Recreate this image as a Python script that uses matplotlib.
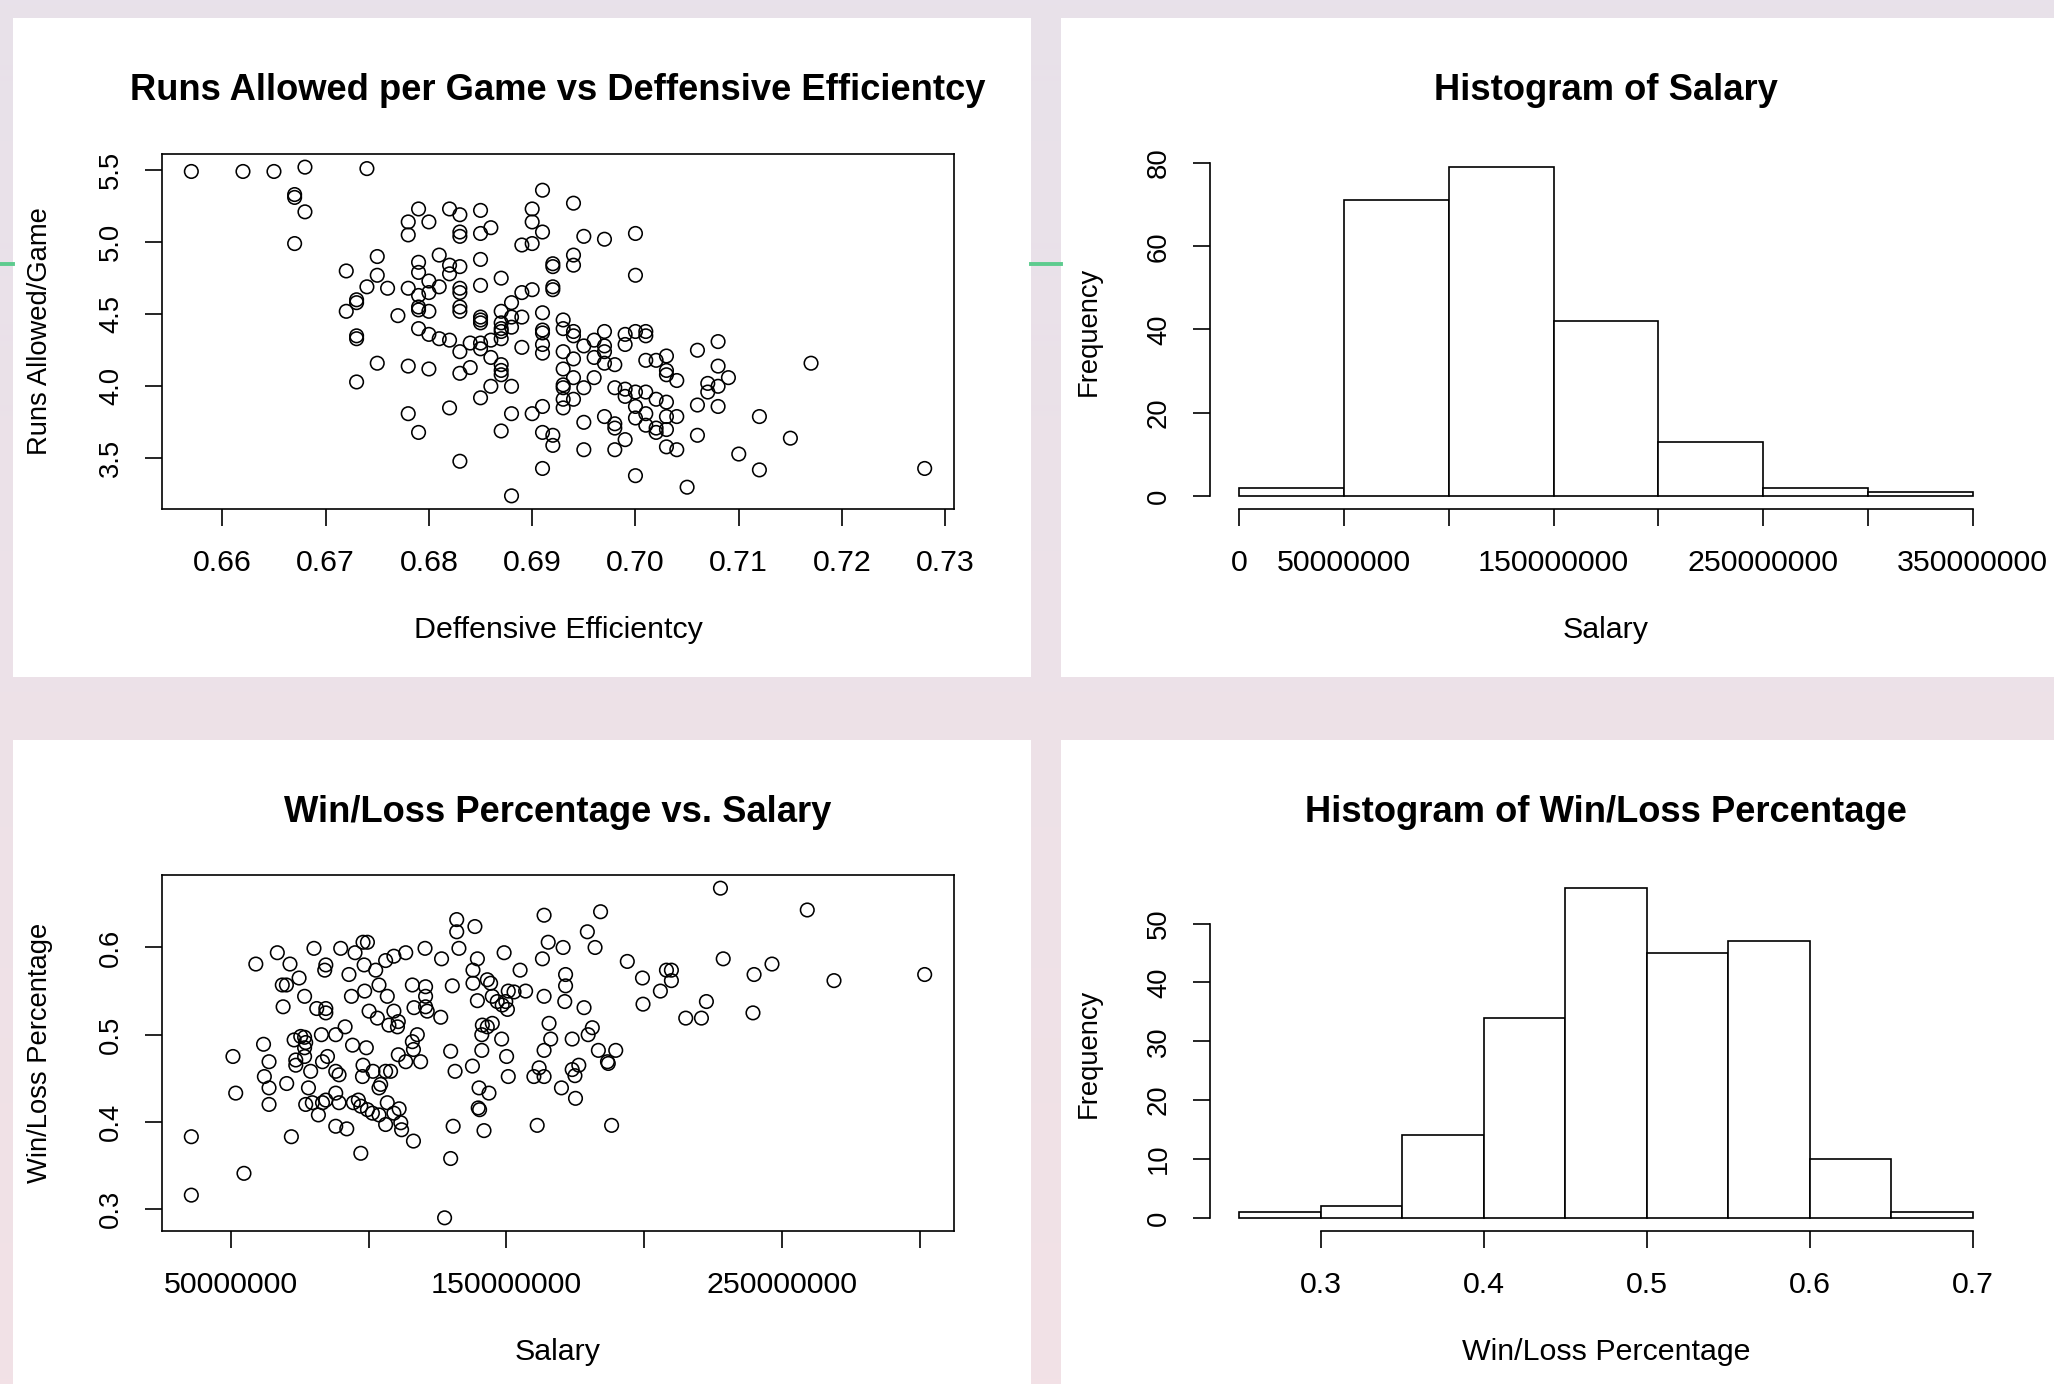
import numpy as np
import matplotlib
matplotlib.use("Agg")
import matplotlib.pyplot as plt
from matplotlib.patches import Rectangle
from matplotlib.lines import Line2D

plt.rcParams['font.family'] = ['Liberation Sans', 'DejaVu Sans']

# ---------------- data ----------------
def_eff = [
    0.657, 0.662, 0.665, 0.668, 0.674, 0.667, 0.667, 0.668, 0.667,
    0.672, 0.675, 0.675, 0.674, 0.676, 0.673, 0.673, 0.672, 0.673, 0.673,
    0.675, 0.673, 0.678, 0.678, 0.679, 0.680, 0.682, 0.683, 0.683, 0.683,
    0.685, 0.685, 0.686, 0.691, 0.690, 0.690, 0.691, 0.689, 0.690, 0.681,
    0.682, 0.682, 0.683, 0.685, 0.679, 0.679, 0.680, 0.681, 0.678,
    0.679, 0.679, 0.679, 0.680, 0.680, 0.677, 0.683, 0.683, 0.683, 0.683,
    0.685, 0.687, 0.679, 0.680, 0.681, 0.682, 0.683, 0.684,
    0.685, 0.685, 0.685, 0.685, 0.685, 0.686, 0.686,
    0.687, 0.687, 0.687, 0.687, 0.687, 0.688, 0.688, 0.688, 0.689, 0.689, 0.690, 0.691,
    0.691, 0.691, 0.691, 0.691, 0.689, 0.687, 0.687, 0.687,
    0.686, 0.688, 0.683, 0.684, 0.685, 0.682, 0.678, 0.680, 0.678, 0.679, 0.683,
    0.687, 0.688, 0.690, 0.691, 0.691, 0.692, 0.692, 0.691, 0.688,
    0.692, 0.692, 0.692, 0.692, 0.694, 0.694, 0.694, 0.695, 0.697, 0.700, 0.700,
    0.693, 0.693, 0.694, 0.694, 0.695, 0.696, 0.697, 0.697, 0.697, 0.696, 0.697,
    0.698, 0.699, 0.699, 0.700, 0.701,
    0.693, 0.694, 0.693, 0.694, 0.693, 0.693, 0.695, 0.696, 0.693, 0.693, 0.694,
    0.695, 0.697, 0.698, 0.698, 0.699, 0.700, 0.700, 0.698, 0.699, 0.699, 0.700,
    0.701, 0.695, 0.698, 0.700, 0.701, 0.701,
    0.701, 0.702, 0.703, 0.703, 0.703, 0.704, 0.706, 0.708, 0.708, 0.708, 0.709,
    0.707, 0.707, 0.706, 0.708, 0.702, 0.703, 0.701, 0.702, 0.702, 0.703, 0.703,
    0.704, 0.703, 0.704, 0.706, 0.705, 0.710, 0.712, 0.712, 0.715, 0.717, 0.728,
]
runs_allowed = [
    5.49, 5.49, 5.49, 5.52, 5.51, 5.33, 5.31, 5.21, 4.99,
    4.80, 4.90, 4.77, 4.69, 4.68, 4.60, 4.58, 4.52, 4.35, 4.33,
    4.16, 4.03, 5.14, 5.05, 5.23, 5.14, 5.23, 5.19, 5.07, 5.04,
    5.22, 5.06, 5.10, 5.36, 5.23, 5.14, 5.07, 4.98, 4.99, 4.91,
    4.84, 4.78, 4.83, 4.88, 4.86, 4.79, 4.73, 4.69, 4.68,
    4.63, 4.55, 4.53, 4.65, 4.52, 4.49, 4.68, 4.65, 4.55, 4.52,
    4.70, 4.75, 4.40, 4.36, 4.33, 4.32, 4.24, 4.30,
    4.48, 4.46, 4.44, 4.30, 4.26, 4.32, 4.20,
    4.52, 4.44, 4.40, 4.38, 4.33, 4.58, 4.48, 4.41, 4.48, 4.65, 4.67, 4.51,
    4.39, 4.37, 4.29, 4.23, 4.27, 4.15, 4.11, 4.08,
    4.00, 4.00, 4.09, 4.13, 3.92, 3.85, 4.14, 4.12, 3.81, 3.68, 3.48,
    3.69, 3.81, 3.81, 3.86, 3.68, 3.66, 3.59, 3.43, 3.24,
    4.85, 4.83, 4.69, 4.67, 5.27, 4.91, 4.84, 5.04, 5.02, 5.06, 4.77,
    4.46, 4.40, 4.38, 4.35, 4.28, 4.32, 4.38, 4.28, 4.24, 4.20, 4.16,
    4.15, 4.36, 4.29, 4.38, 4.38,
    4.24, 4.19, 4.12, 4.06, 4.01, 3.99, 3.99, 4.06, 3.91, 3.85, 3.91,
    3.75, 3.79, 3.74, 3.71, 3.63, 3.86, 3.78, 3.99, 3.98, 3.93, 3.96,
    3.96, 3.56, 3.56, 3.38, 4.18, 3.73,
    4.35, 4.18, 4.21, 4.11, 4.08, 4.04, 4.25, 4.31, 4.14, 4.00, 4.06,
    4.02, 3.96, 3.87, 3.86, 3.91, 3.89, 3.81, 3.71, 3.68, 3.79, 3.70,
    3.79, 3.58, 3.56, 3.66, 3.30, 3.53, 3.79, 3.42, 3.64, 4.16, 3.43,
]

# Salary in millions of dollars, Win/Loss percentage
salary_musd = [
    35.7, 35.7, 54.8, 50.8, 51.8, 59.1, 61.9, 63.9, 62.2, 63.9, 63.9, 66.9, 71.5,
    68.7, 70.2, 74.8, 69.0, 70.3, 72.0, 73.0, 75.4, 76.8, 73.6, 73.6, 76.8, 77.2,
    76.8, 76.8, 79.0, 78.2, 77.2, 80.2, 81.2, 84.5, 84.5, 84.5, 84.1, 82.9, 85.1,
    83.3, 79.6, 83.3, 84.5, 81.8, 88.1, 88.1, 89.3, 88.1, 91.5, 89.9, 95.1, 92.9,
    93.8, 94.2, 88.1, 92.1, 89.3, 97.2, 94.5, 96.3, 97.2, 97.8, 98.0, 99.2, 98.6,
    98.4, 98.0, 99.6, 100.2, 103.2, 102.6, 103.8, 106.8, 106.2, 109.2, 113.5,
    101.6, 99.6, 101.4, 103.8, 103.8, 104.4, 106.2, 108.0, 106.2, 109.2, 106.8,
    111.1, 111.7, 112.0, 116.3, 107.4, 110.5, 110.8, 109.2, 110.8, 113.5, 115.9,
    116.3, 117.7, 118.9, 116.5, 115.9, 120.7, 120.7, 120.7, 121.3, 120.5, 126.2,
    126.5, 129.8, 131.4, 129.8, 130.7, 127.6, 132.0, 132.0, 132.8, 130.4, 138.6,
    139.5, 137.9, 137.9, 139.5, 137.7, 140.1, 143.7, 139.8, 140.3, 141.9, 141.3,
    143.1, 144.9, 141.1, 141.1, 143.1, 144.3, 144.9, 146.7, 148.5, 150.7, 152.8,
    150.4, 149.8, 149.2, 155.0, 157.0, 148.3, 150.1, 150.7, 161.2, 160.0, 161.9,
    163.7, 163.7, 165.2, 163.1, 163.7, 165.5, 166.1, 163.7,
    171.5, 171.5, 171.2, 170.6, 178.2, 173.9, 179.7, 181.2, 183.4, 189.7, 186.7,
    187.0, 179.4, 182.2, 184.2, 193.9, 199.4, 199.6, 170.0, 175.1, 173.9, 174.9,
    176.3, 188.2,
    205.9, 208.1, 209.9, 209.9, 215.1, 220.8, 222.6, 227.7, 228.7, 239.9, 239.5,
    246.4, 259.2, 268.9, 301.8,
]
win_loss = [
    0.383, 0.316, 0.341, 0.475, 0.433, 0.581, 0.489, 0.469, 0.452, 0.439, 0.420, 0.594, 0.581,
    0.557, 0.557, 0.565, 0.532, 0.444, 0.383, 0.494, 0.498, 0.544, 0.471, 0.465, 0.497, 0.491,
    0.485, 0.475, 0.458, 0.439, 0.420, 0.599, 0.530, 0.530, 0.525, 0.580, 0.574, 0.500, 0.475,
    0.469, 0.422, 0.422, 0.425, 0.408, 0.433, 0.458, 0.454, 0.500, 0.509, 0.599, 0.594, 0.569,
    0.544, 0.488, 0.395, 0.392, 0.422, 0.364, 0.422, 0.425, 0.418, 0.452, 0.465, 0.485, 0.550,
    0.580, 0.606, 0.606, 0.527, 0.519, 0.574, 0.557, 0.544, 0.585, 0.590, 0.594,
    0.458, 0.414, 0.410, 0.408, 0.439, 0.443, 0.458, 0.458, 0.397, 0.410, 0.422,
    0.415, 0.399, 0.391, 0.378, 0.511, 0.509, 0.515, 0.527, 0.477, 0.469, 0.492,
    0.483, 0.500, 0.469, 0.531, 0.557, 0.555, 0.544, 0.532, 0.527, 0.599, 0.520,
    0.587, 0.481, 0.458, 0.358, 0.395, 0.290, 0.632, 0.618, 0.599, 0.556, 0.624,
    0.587, 0.574, 0.559, 0.539, 0.464, 0.439, 0.433, 0.416, 0.414, 0.390, 0.511,
    0.509, 0.513, 0.500, 0.482, 0.563, 0.559, 0.544, 0.538, 0.534, 0.550, 0.549,
    0.529, 0.538, 0.594, 0.574, 0.550, 0.495, 0.475, 0.452, 0.396, 0.452, 0.462,
    0.452, 0.637, 0.606, 0.587, 0.544, 0.513, 0.495, 0.482,
    0.569, 0.556, 0.538, 0.600, 0.531, 0.495, 0.500, 0.508, 0.482, 0.482, 0.469,
    0.467, 0.618, 0.600, 0.641, 0.584, 0.565, 0.535, 0.439, 0.427, 0.460, 0.453,
    0.465, 0.396,
    0.550, 0.574, 0.574, 0.562, 0.519, 0.519, 0.538, 0.668, 0.587, 0.569, 0.525,
    0.581, 0.643, 0.562, 0.569,
]

# Histogram of Salary (bin edges in dollars, counts)
salary_bin_edges = [0, 50e6, 100e6, 150e6, 200e6, 250e6, 300e6, 350e6]
salary_counts = [2, 71, 79, 42, 13, 2, 1]

# Histogram of Win/Loss Percentage
wl_bin_edges = [0.25, 0.30, 0.35, 0.40, 0.45, 0.50, 0.55, 0.60, 0.65, 0.70]
wl_counts = [1, 2, 14, 34, 56, 45, 47, 10, 1]

# ticks / labels
de_xticks = [0.66, 0.67, 0.68, 0.69, 0.70, 0.71, 0.72, 0.73]
de_xticklabels = ["0.66", "0.67", "0.68", "0.69", "0.70", "0.71", "0.72", "0.73"]
ra_yticks = [3.5, 4.0, 4.5, 5.0, 5.5]
ra_yticklabels = ["3.5", "4.0", "4.5", "5.0", "5.5"]

sal_hist_xticks = [0, 50e6, 100e6, 150e6, 200e6, 250e6, 300e6, 350e6]
sal_hist_xticklabels = ["0", "50000000", "", "150000000", "", "250000000", "", "350000000"]
sal_hist_yticks = [0, 20, 40, 60, 80]

sal_sc_xticks = [50e6, 100e6, 150e6, 200e6, 250e6, 300e6]
sal_sc_xticklabels = ["50000000", "", "150000000", "", "250000000", ""]
wl_yticks = [0.3, 0.4, 0.5, 0.6]
wl_yticklabels = ["0.3", "0.4", "0.5", "0.6"]

wl_hist_xticks = [0.3, 0.4, 0.5, 0.6, 0.7]
wl_hist_xticklabels = ["0.3", "0.4", "0.5", "0.6", "0.7"]
wl_hist_yticks = [0, 10, 20, 30, 40, 50]

# ---------------- layout ----------------
W, H, DPI = 2054, 1384, 100
fig = plt.figure(figsize=(W / DPI, H / DPI), dpi=DPI)

bg = fig.add_axes([0, 0, 1, 1], zorder=-5)
bg.set_axis_off()
g = np.linspace(0, 1, 256)[:, None, None]
c_top = np.array([232, 225, 234]) / 255.0
c_bot = np.array([242, 225, 230]) / 255.0
img = c_top[None, None, :] * (1 - g) + c_bot[None, None, :] * g
img = np.repeat(img, 4, axis=1)
bg.imshow(img, extent=[0, 1, 0, 1], aspect='auto', origin='upper')
bg.set_xlim(0, 1)
bg.set_ylim(0, 1)

def px_rect(x0, y0, x1, y1):
    return (x0 / W, 1 - y1 / H), (x1 - x0) / W, (y1 - y0) / H

for (x0, y0, x1, y1) in [(13, 18, 1031, 677), (1061, 18, 2054, 677),
                         (13, 740, 1031, 1384), (1061, 740, 2054, 1384)]:
    xy, w, h = px_rect(x0, y0, x1, y1)
    bg.add_patch(Rectangle(xy, w, h, facecolor='white', edgecolor='none'))

green = '#5dcb8e'
gy = 1 - 264 / H
bg.add_line(Line2D([0, 13 / W], [gy, gy], color=green, lw=2.8))
bg.add_line(Line2D([1031 / W, 1061 / W], [gy, gy], color=green, lw=2.8))

LW = 1.2
FS_H = 21.9      # horizontal text
FS_V = 19.7      # vertical (rotated) text
FS_TITLE = 26.2
TICKLEN = 12.2   # points (~17 px)
XPAD = 27.0
YPAD = 24.5

def make_axes(px_left, px_top, px_right, px_bottom):
    return fig.add_axes([px_left / W, 1 - px_bottom / H,
                         (px_right - px_left) / W, (px_bottom - px_top) / H])

def decorate(ax, title, xlabel, ylabel):
    ax.annotate(title, xy=(0.5, 1), xycoords='axes fraction', xytext=(0, 63.0),
                textcoords='offset pixels', ha='center', va='center',
                fontsize=FS_TITLE, fontweight='bold')
    ax.annotate(xlabel, xy=(0.5, 0), xycoords='axes fraction', xytext=(0, -121.0),
                textcoords='offset pixels', ha='center', va='center', fontsize=FS_H)
    ax.annotate(ylabel, xy=(0, 0.5), xycoords='axes fraction', xytext=(-121.5, 0),
                textcoords='offset pixels', ha='center', va='center', fontsize=FS_V,
                rotation=90)
    ax.tick_params(axis='both', direction='out', length=TICKLEN, width=LW, color='black')
    ax.tick_params(axis='x', pad=XPAD, labelsize=FS_H)
    ax.tick_params(axis='y', pad=YPAD, labelsize=FS_V)

def r_range(v):
    lo, hi = min(v), max(v)
    pad = 0.04 * (hi - lo)
    return lo - pad, hi + pad

def scatter_panel(ax, x, y, xticks, xlabels, yticks, ylabels):
    ax.scatter(x, y, s=95, facecolors='none', edgecolors='black', linewidths=1.15)
    ax.set_xlim(*r_range(x))
    ax.set_ylim(*r_range(y))
    ax.set_xticks(xticks)
    ax.set_xticklabels(xlabels, ha='center', va='center')
    ax.set_yticks(yticks)
    ax.set_yticklabels(ylabels, rotation=90, ha='center', va='center')
    for s in ax.spines.values():
        s.set_linewidth(LW)
        s.set_color('black')

def hist_panel(ax, edges, counts, xticks, xlabels, yticks):
    edges = np.asarray(edges, dtype=float)
    ax.hist(edges[:-1], bins=edges, weights=counts, facecolor='white',
            edgecolor='black', linewidth=LW)
    xr = edges[-1] - edges[0]
    ax.set_xlim(edges[0] - 0.04 * xr, edges[-1] + 0.04 * xr)
    ymax = max(counts)
    ax.set_ylim(-0.04 * ymax, 1.04 * ymax)
    ax.set_xticks(xticks)
    ax.set_xticklabels(xlabels, ha='center', va='center')
    ax.set_yticks(yticks)
    ax.set_yticklabels([str(int(v)) for v in yticks], rotation=90, ha='center', va='center')
    ax.spines['top'].set_visible(False)
    ax.spines['right'].set_visible(False)
    ax.spines['left'].set_bounds(yticks[0], yticks[-1])
    ax.spines['bottom'].set_bounds(xticks[0], xticks[-1])
    for k in ('left', 'bottom'):
        ax.spines[k].set_linewidth(LW)
        ax.spines[k].set_color('black')
    ax.patch.set_alpha(0)

# Top-left scatter
ax1 = make_axes(162, 154, 954, 509)
scatter_panel(ax1, def_eff, runs_allowed, de_xticks, de_xticklabels, ra_yticks, ra_yticklabels)
decorate(ax1, "Runs Allowed per Game vs Deffensive Efficientcy",
         "Deffensive Efficientcy", "Runs Allowed/Game")

# Top-right histogram of salary
ax2 = make_axes(1210, 154, 2002, 509)
hist_panel(ax2, salary_bin_edges, salary_counts, sal_hist_xticks, sal_hist_xticklabels,
           sal_hist_yticks)
decorate(ax2, "Histogram of Salary", "Salary", "Frequency")

# Bottom-left scatter
ax3 = make_axes(162, 875, 954, 1231)
sal = np.array(salary_musd) * 1e6
scatter_panel(ax3, sal, win_loss, sal_sc_xticks, sal_sc_xticklabels, wl_yticks, wl_yticklabels)
decorate(ax3, "Win/Loss Percentage vs. Salary", "Salary", "Win/Loss Percentage")

# Bottom-right histogram of W/L
ax4 = make_axes(1210, 875, 2002, 1231)
hist_panel(ax4, wl_bin_edges, wl_counts, wl_hist_xticks, wl_hist_xticklabels, wl_hist_yticks)
decorate(ax4, "Histogram of Win/Loss Percentage", "Win/Loss Percentage", "Frequency")

fig.savefig("out.png", dpi=DPI)
